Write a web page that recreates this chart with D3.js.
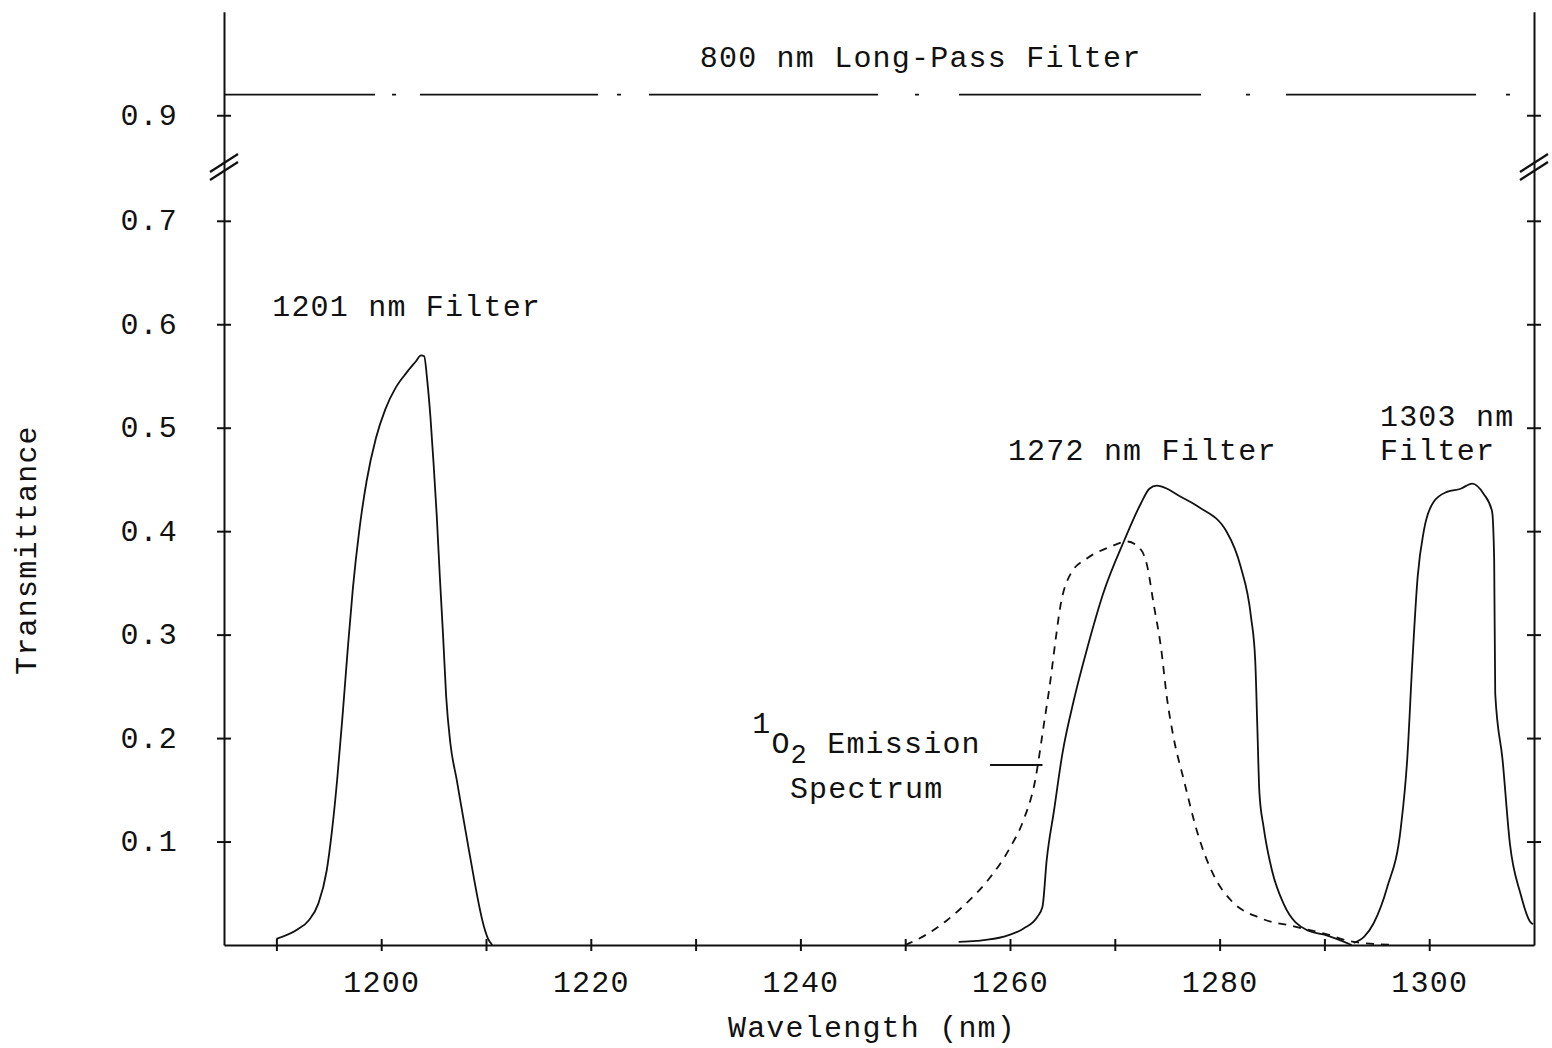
<!DOCTYPE html>
<meta charset="utf-8">
<style>
    body {
        margin: 0;
        background-color: #fff;
    }

    svg {
        font-family: "Liberation Mono", "DejaVu Sans Mono", monospace;
    }

    .axis path,
    .axis line {
        fill: none;
        stroke: #111;
        stroke-width: 2;
    }

    .axis text,
    .label {
        font-family: "Liberation Mono", "DejaVu Sans Mono", monospace;
        font-size: 30px;
        letter-spacing: 1.2px;
        fill: #111;
    }

    .curve {
        fill: none;
        stroke: #111;
        stroke-width: 1.8;
    }
</style>
<body>
<script src="https://cdn.jsdelivr.net/npm/d3@7"></script>
<script>

    // [wavelength nm, transmittance]
    const filter1201 = [
        [1190.0, 0.006], [1192.0, 0.015], [1193.1, 0.024], [1194.0, 0.040], [1194.8, 0.072],
        [1195.3, 0.110], [1195.8, 0.160], [1196.3, 0.220], [1196.8, 0.285], [1197.3, 0.345],
        [1197.9, 0.400], [1198.6, 0.448], [1199.5, 0.490], [1200.4, 0.518], [1201.4, 0.539],
        [1202.4, 0.553], [1203.3, 0.564], [1203.8, 0.570], [1204.1, 0.569], [1204.4, 0.545],
        [1204.7, 0.510], [1205.0, 0.465], [1205.3, 0.415], [1205.6, 0.355], [1205.9, 0.300],
        [1206.2, 0.240], [1206.6, 0.195], [1207.2, 0.160], [1208.4, 0.090], [1209.8, 0.018],
        [1210.2, 0.006], [1210.6, 0.0]
    ];

    const filter1272 = [
        [1255.1, 0.003], [1256.8, 0.004], [1259.4, 0.008], [1261.3, 0.016], [1262.6, 0.027],
        [1263.1, 0.037], [1263.5, 0.082], [1264.2, 0.130], [1265.0, 0.185], [1266.1, 0.237],
        [1267.4, 0.288], [1268.9, 0.340], [1270.9, 0.391], [1272.5, 0.427], [1273.3, 0.441],
        [1274.0, 0.444], [1275.0, 0.441], [1276.0, 0.435], [1277.9, 0.424], [1280.7, 0.399],
        [1282.0, 0.366], [1283.0, 0.317], [1283.4, 0.275], [1283.6, 0.211], [1283.8, 0.147],
        [1284.2, 0.114], [1285.0, 0.072], [1286.1, 0.040], [1288.4, 0.014], [1290.0, 0.010],
        [1292.6, 0.0]
    ];

    const filter1303 = [
        [1292.8, 0.002], [1293.8, 0.008], [1294.7, 0.021], [1296.0, 0.056], [1297.3, 0.114],
        [1297.9, 0.179], [1298.4, 0.275], [1298.9, 0.356], [1299.5, 0.401], [1300.4, 0.428],
        [1301.7, 0.438], [1303.0, 0.441], [1304.1, 0.446], [1305.2, 0.436], [1306.0, 0.419],
        [1306.2, 0.372], [1306.3, 0.243], [1307.0, 0.179], [1307.7, 0.098], [1308.7, 0.050],
        [1309.6, 0.023], [1309.9, 0.020]
    ];

    const emission = [
        [1250.0, 0.0], [1252.0, 0.010], [1254.0, 0.024], [1256.0, 0.042], [1258.0, 0.064],
        [1260.0, 0.094], [1261.3, 0.121], [1262.4, 0.159], [1263.2, 0.211], [1263.9, 0.259],
        [1264.3, 0.291], [1264.8, 0.327], [1265.8, 0.359], [1267.4, 0.374], [1269.6, 0.385],
        [1271.2, 0.390], [1272.5, 0.382], [1273.1, 0.366], [1273.7, 0.330], [1274.4, 0.288],
        [1275.0, 0.237], [1275.6, 0.201], [1276.6, 0.159], [1277.9, 0.108], [1279.5, 0.066],
        [1281.1, 0.043], [1283.9, 0.026], [1287.1, 0.018], [1290.0, 0.011], [1292.8, 0.003],
        [1296.8, 0.0]
    ];

    // 800 nm long-pass filter is flat across the window
    const longPass = [[1185, 0.92], [1310, 0.92]];

    const xTickValues = [1190, 1200, 1210, 1220, 1230, 1240, 1250, 1260, 1270, 1280, 1290, 1300];
    const xTickLabels = ["1200", "1220", "1240", "1260", "1280", "1300"];
    const yTickValues = [0.1, 0.2, 0.3, 0.4, 0.5, 0.6, 0.7, 0.9];
    const yTickLabels = ["0.1", "0.2", "0.3", "0.4", "0.5", "0.6", "0.7", "0.9"];

    // text annotations, anchored in data units
    const annotations = [
        {text: "800 nm Long-Pass Filter", wl: 1230.4, t: 0.947},
        {text: "1201 nm Filter", wl: 1189.6, t: 0.608},
        {text: "1272 nm Filter", wl: 1259.8, t: 0.469},
        {text: "1303 nm", wl: 1295.3, t: 0.502},
        {text: "Filter", wl: 1295.3, t: 0.469},
        {text: "Spectrum", wl: 1239.0, t: 0.142}
    ];
    const leader = [[1258.1, 0.174], [1263.1, 0.174]];

    const width = 1552;
    const height = 1048;

    const svg = d3.select('body')
        .append('svg')
        .attr('width', width)
        .attr('height', height);

    const x = d3.scaleLinear()
        .domain([1185, 1310])
        .range([224, 1534]);

    // broken axis: 0 - 0.752 below the break, 0.85 - 1.0 above it
    const y = d3.scaleLinear()
        .domain([0, 0.752, 0.85, 1.0])
        .range([945, 167, 167, 11.75]);

    // axes
    const xAxis = d3.axisBottom(x)
        .tickValues(xTickValues)
        .tickSizeOuter(0)
        .tickSizeInner(6)
        .tickFormat(d => xTickLabels.includes(String(d)) ? String(d) : "");

    const gx = svg.append("g")
        .attr("class", "x axis")
        .attr("transform", "translate(0," + y(0) + ")")
        .call(xAxis);
    gx.selectAll(".tick line").attr("y1", -6).attr("y2", 6);
    gx.selectAll(".tick text").attr("y", 47).attr("dy", 0);
    gx.select(".domain").attr("stroke-width", 2.5);

    const yAxis = d3.axisLeft(y)
        .tickValues(yTickValues)
        .tickSizeOuter(0)
        .tickFormat((d, i) => yTickLabels[i]);

    const gy = svg.append("g")
        .attr("class", "y axis")
        .attr("transform", "translate(" + x(1185) + ",0)")
        .call(yAxis);
    gy.selectAll(".tick line").attr("x1", -7).attr("x2", 7);
    gy.selectAll(".tick text").attr("x", -46).attr("dy", 0).attr("y", 9);

    const gy2 = svg.append("g")
        .attr("class", "y axis")
        .attr("transform", "translate(" + x(1310) + ",0)")
        .call(d3.axisRight(y).tickValues(yTickValues).tickSizeOuter(0).tickFormat(""));
    gy2.selectAll(".tick line").attr("x1", -7).attr("x2", 7);
    gy2.select(".domain").attr("stroke-width", 1.5);

    // axis break marks
    const breaks = svg.append("g").attr("class", "breaks");
    [1185, 1310].forEach(wl => {
        [-4, 4].forEach(off => {
            breaks.append("line")
                .attr("x1", x(wl) - 14).attr("y1", y(0.8) + 9 + off)
                .attr("x2", x(wl) + 14).attr("y2", y(0.8) - 9 + off)
                .attr("stroke", "#111")
                .attr("stroke-width", 2.2);
        });
    });

    const line = d3.line()
        .x(d => x(d[0]))
        .y(d => y(d[1]))
        .curve(d3.curveMonotoneX);

    // long-pass filter (dash-dot as typed on the original)
    svg.append("path")
        .datum(longPass)
        .attr("class", "curve")
        .attr("d", d3.line().x(d => x(d[0])).y(d => y(d[1])))
        .attr("stroke-width", 3)
        .attr("stroke-dasharray", "151,17,4,24,178,19,4,28,229,37,4,40,242,45,4,36,190,30,4,30");

    [filter1201, filter1272, filter1303].forEach(series => {
        svg.append("path")
            .datum(series)
            .attr("class", "curve")
            .attr("d", line);
    });

    svg.append("path")
        .datum(emission)
        .attr("class", "curve")
        .attr("stroke-dasharray", "8,7")
        .attr("d", line);

    svg.append("path")
        .datum(leader)
        .attr("class", "curve")
        .attr("stroke-width", 2.2)
        .attr("d", d3.line().x(d => x(d[0])).y(d => y(d[1])));

    // annotations
    svg.selectAll(".label")
        .data(annotations)
        .enter().append("text")
        .attr("class", "label")
        .attr("x", d => x(d.wl))
        .attr("y", d => y(d.t))
        .text(d => d.text);

    // singlet oxygen label with typewriter half-line shifts
    const o2 = svg.append("text")
        .attr("class", "label")
        .attr("x", x(1235.4))
        .attr("y", y(0.186));
    o2.append("tspan").attr("dy", -20).text("1");
    o2.append("tspan").attr("dy", 20).text("O");
    o2.append("tspan").attr("dy", 10).style("font-size", "27px").text("2");
    o2.append("tspan").attr("dy", -10).text(" Emission");

    svg.append("text")
        .attr("class", "label")
        .attr("x", 872)
        .attr("y", 1037)
        .style("text-anchor", "middle")
        .text("Wavelength (nm)");

    svg.append("text")
        .attr("class", "label")
        .attr("transform", "translate(36," + 550 + ") rotate(-90)")
        .style("text-anchor", "middle")
        .text("Transmittance");

</script>
</body>
</html>
